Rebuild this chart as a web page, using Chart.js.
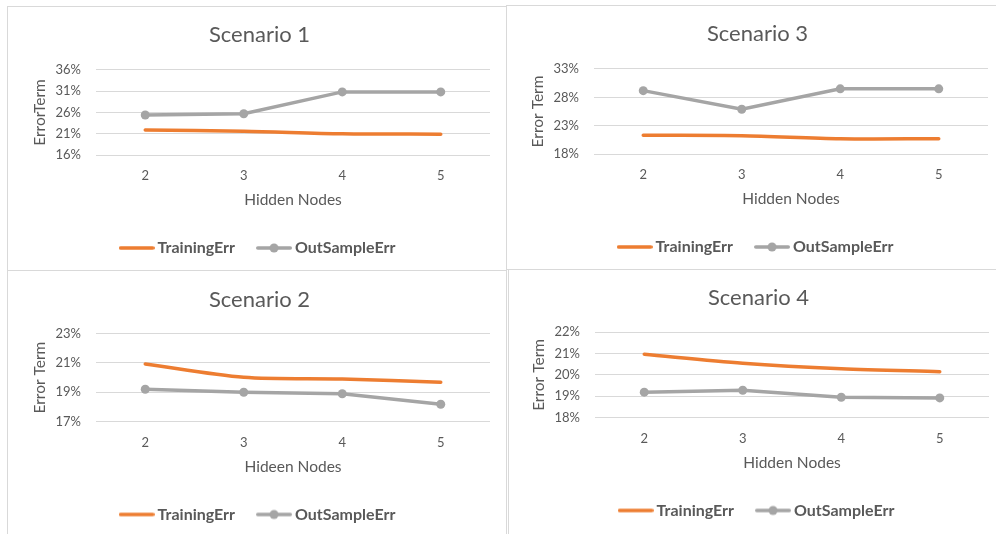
<!DOCTYPE html>
<html>
<head>
<meta charset="utf-8">
<title>Error Term by Hidden Nodes</title>
<script src="https://cdn.jsdelivr.net/npm/chart.js@4.4.1/dist/chart.umd.min.js"></script>
<style>
  html, body { margin: 0; padding: 0; background: #fff; overflow: hidden; }
  body { width: 996px; height: 534px; position: relative; }
  .panel { position: absolute; border: 1px solid #d9d9d9; box-sizing: border-box; }
  canvas { position: absolute; }
</style>
</head>
<body>
<div class="panel" style="left:7px;top:6px;width:500px;height:265px"></div>
<div class="panel" style="left:506px;top:5px;width:500px;height:265px"></div>
<div class="panel" style="left:7px;top:270px;width:500px;height:280px"></div>
<div class="panel" style="left:508px;top:269px;width:500px;height:280px"></div>

<canvas id="scenario1" width="499" height="264" style="left:7px;top:6px"></canvas>
<canvas id="scenario3" width="499" height="264" style="left:505px;top:5px"></canvas>
<canvas id="scenario2" width="499" height="264" style="left:7px;top:271px"></canvas>
<canvas id="scenario4" width="499" height="264" style="left:506px;top:269px"></canvas>

<script>
// Shared x categories
const hiddenNodes = ['2', '3', '4', '5'];

// Scenario 1 (percent)
const s1Training = [21.86, 21.6, 21.0, 20.9];
const s1OutSample = [25.4, 25.7, 30.85, 30.85];
const s1Ticks = [16, 21, 26, 31, 36];

// Scenario 3
const s3Training = [21.3, 21.24, 20.7, 20.7];
const s3OutSample = [29.18, 25.9, 29.5, 29.5];
const s3Ticks = [18, 23, 28, 33];

// Scenario 2
const s2Training = [20.93, 20.02, 19.9, 19.68];
const s2OutSample = [19.2, 19.0, 18.9, 18.18];
const s2Ticks = [17, 19, 21, 23];

// Scenario 4
const s4Training = [20.97, 20.55, 20.29, 20.15];
const s4OutSample = [19.19, 19.28, 18.95, 18.92];
const s4Ticks = [18, 19, 20, 21, 22];

const FONT = 'Lato';
const TEXT = '#595959';
const ORANGE = '#ED7D31';
const GRAY = '#A5A5A5';

// little line (+dot) pictures for the legend
function legendIcon(color, withDot) {
    const c = document.createElement('canvas');
    c.width = 36;
    c.height = 12;
    const g = c.getContext('2d');
    g.strokeStyle = color;
    g.lineWidth = 3.5;
    g.lineCap = 'round';
    g.beginPath();
    g.moveTo(1.75, 6);
    g.lineTo(34.25, 6);
    g.stroke();
    if (withDot) {
        g.fillStyle = color;
        g.beginPath();
        g.arc(18, 6, 4.5, 0, Math.PI * 2);
        g.fill();
    }
    return c;
}
const icons = [legendIcon(ORANGE, false), legendIcon(GRAY, true)];

function makeChart(id, title, yTitle, xTitle, training, outSample, yTicks, plotTop, plotBottom) {
    const canvas = document.getElementById(id);
    const xHeight = 59;
    const legendHeight = 52;

    return new Chart(canvas, {
        type: 'line',
        data: {
            labels: hiddenNodes,
            datasets: [{
                label: 'TrainingErr',
                data: training,
                borderColor: ORANGE,
                backgroundColor: ORANGE,
                borderWidth: 3.5,
                borderCapStyle: 'round',
                pointRadius: 0,
                tension: 0.3
            }, {
                label: 'OutSampleErr',
                data: outSample,
                borderColor: GRAY,
                backgroundColor: GRAY,
                borderWidth: 3.5,
                borderCapStyle: 'round',
                pointRadius: 4.5,
                pointBorderWidth: 0,
                pointBackgroundColor: GRAY,
                tension: 0
            }]
        },
        options: {
            responsive: false,
            animation: false,
            layout: {
                // left/right padding keeps title + legend centred like the original
                padding: { left: 22, right: 16, top: 0, bottom: canvas.height - plotBottom - xHeight - legendHeight }
            },
            plugins: {
                title: {
                    display: true,
                    text: title,
                    color: TEXT,
                    font: { family: FONT, size: 22, weight: 'normal' },
                    padding: { top: 15.8, bottom: plotTop - 42.2 }
                },
                legend: {
                    position: 'bottom',
                    labels: {
                        usePointStyle: true,
                        pointStyleWidth: 26,
                        padding: 26,
                        color: TEXT,
                        font: { family: FONT, size: 16, weight: 'bold' },
                        generateLabels: (chart) => {
                            const items = Chart.defaults.plugins.legend.labels.generateLabels(chart);
                            items.forEach((item, i) => { item.pointStyle = icons[i]; });
                            return items;
                        }
                    }
                },
                tooltip: { enabled: false }
            },
            scales: {
                x: {
                    offset: true,
                    grid: { display: false },
                    border: { display: false },
                    ticks: { color: TEXT, padding: 5.5, font: { family: FONT, size: 13 } },
                    title: {
                        display: true,
                        text: xTitle,
                        color: TEXT,
                        font: { family: FONT, size: 15.5 },
                        padding: { top: 0, bottom: 4.5 }
                    },
                    afterFit: (scale) => { scale.height = xHeight; }
                },
                y: {
                    min: yTicks[0],
                    max: yTicks[yTicks.length - 1],
                    grid: { color: '#d9d9d9', lineWidth: 1, drawTicks: false },
                    border: { display: false },
                    ticks: {
                        stepSize: yTicks[1] - yTicks[0],
                        color: TEXT,
                        padding: 15,
                        font: { family: FONT, size: 13 },
                        callback: (v) => v + '%'
                    },
                    title: {
                        display: true,
                        text: yTitle,
                        color: TEXT,
                        font: { family: FONT, size: 15.5 },
                        padding: { top: 2, bottom: 0 }
                    },
                    afterFit: (scale) => { scale.width = 67; }
                }
            }
        }
    });
}

makeChart('scenario1', 'Scenario 1', 'ErrorTerm', 'Hidden Nodes', s1Training, s1OutSample, s1Ticks, 64, 149);
makeChart('scenario3', 'Scenario 3', 'Error Term', 'Hidden Nodes', s3Training, s3OutSample, s3Ticks, 64, 149);
makeChart('scenario2', 'Scenario 2', 'Error Term', 'Hideen Nodes', s2Training, s2OutSample, s2Ticks, 62.7, 150.5);
makeChart('scenario4', 'Scenario 4', 'Error Term', 'Hidden Nodes', s4Training, s4OutSample, s4Ticks, 63.3, 148.5);
</script>
</body>
</html>
